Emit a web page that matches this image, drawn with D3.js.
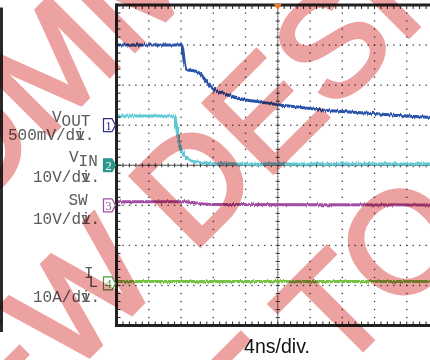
<!DOCTYPE html>
<html><head><meta charset="utf-8">
<script src="https://cdn.jsdelivr.net/npm/d3@7"></script>
<style>html,body{margin:0;padding:0;background:#fff;overflow:hidden}</style>
</head><body>
<svg id="c" width="430" height="360" xmlns="http://www.w3.org/2000/svg"></svg>
<script>
// ---------- data (time in ns, amplitude in divisions from screen centre) ----------
const voutT = [0, 8.1, 8.3, 8.55, 8.8, 9.8, 10.4, 11.0, 11.6, 12.2, 13.5, 15.3, 17.8, 20, 22.7, 25.4, 28.9, 32, 35, 38.8, 40];
const voutV = [3.0, 3.0, 2.75, 2.43, 2.38, 2.35, 2.28, 2.13, 1.98, 1.88, 1.78, 1.66, 1.58, 1.51, 1.45, 1.38, 1.33, 1.29, 1.24, 1.2, 1.19];
const vinT  = [0, 7.2, 7.45, 7.65, 8.0, 8.5, 9.1, 10.4, 12.2, 20, 40];
const vinV  = [1.23, 1.23, 0.96, 0.68, 0.38, 0.22, 0.12, 0.07, 0.04, 0.03, 0.03];
const swT   = [0, 8.5, 10, 12, 40];
const swV   = [-0.91, -0.91, -0.95, -0.98, -0.99];
const ilT   = [0, 40];
const ilV   = [-2.9, -2.9];
const channelIds    = ["1", "2", "3", "4"];
const channelLevels = [1.0, 0.0, -1.0, -2.95];
const channelNames  = [["V", "OUT"], ["V", "IN"], ["SW", ""], ["I", "L"]];
const channelScales = ["500mV/div.", "10V/div.", "10V/div.", "10A/div."];
const timeLabel = "4ns/div.";
const wmTexts = ["RECOMMENDED", "NEW DESIGNS", "SUBJECT TO CHANGE"];

// ---------- layout ----------
const svg = d3.select("#c");
const x = d3.scaleLinear().domain([0, 40]).range([116.5, 439]);
const y = d3.scaleLinear().domain([-4, 4]).range([325.5, 5]);
const colors = ["#2a55a8", "#5ec8d6", "#a24ea2", "#78c244"];
const markColors = ["#30308a", "#2a968c", "#9a4ea0", "#4f9a3a"];
const dotColor = "#3a3a3a";

const defs = svg.append("defs");
const f = defs.append("filter").attr("id", "jit").attr("filterUnits", "userSpaceOnUse")
  .attr("x", 0).attr("y", 0).attr("width", 430).attr("height", 360);
f.append("feTurbulence").attr("type", "fractalNoise").attr("baseFrequency", "1.3 0.04")
  .attr("numOctaves", 1).attr("seed", 4).attr("result", "n");
f.append("feDisplacementMap").attr("in", "SourceGraphic").attr("in2", "n").attr("scale", 4)
  .attr("xChannelSelector", "R").attr("yChannelSelector", "G");

// left neighbour frame fragment
const lf = svg.append("g");
lf.append("line").attr("x1", 1.5).attr("x2", 1.5).attr("y1", 8).attr("y2", 332)
  .attr("stroke", "#2a2a2a").attr("stroke-width", 3);
lf.append("line").attr("x1", 0).attr("x2", 3).attr("y1", 8.5).attr("y2", 8.5).attr("stroke", "#2a2a2a").attr("stroke-width", 2);

// grid dots
const grid = svg.append("g").attr("fill", dotColor);
const xMinor = d3.range(0, 40.001, 0.8);
const yMinor = d3.range(-4, 4.001, 0.2);
for (let d = -3; d <= 3; d++) {
  if (d === 0) continue;
  xMinor.forEach(t => grid.append("rect").attr("x", x(t) - 0.6).attr("y", y(d) - 0.6).attr("width", 1.3).attr("height", 1.3));
}
for (let t = 4; t <= 36; t += 4) {
  if (t === 20) continue;
  yMinor.forEach(v => grid.append("rect").attr("x", x(t) - 0.6).attr("y", y(v) - 0.6).attr("width", 1.3).attr("height", 1.3));
}
// centre lines (finer dots + ticks)
d3.range(0, 40.001, 0.16).forEach(t => grid.append("rect").attr("x", x(t) - 0.5).attr("y", y(0) - 0.5).attr("width", 1.1).attr("height", 1.1));
xMinor.forEach(t => grid.append("rect").attr("x", x(t) - 0.5).attr("y", y(0) - 2).attr("width", 1.1).attr("height", 4));
d3.range(-4, 4.001, 0.04).forEach(v => grid.append("rect").attr("x", x(20) - 0.5).attr("y", y(v) - 0.5).attr("width", 1.1).attr("height", 1.1));
yMinor.forEach(v => grid.append("rect").attr("x", x(20) - 2).attr("y", y(v) - 0.5).attr("width", 4).attr("height", 1.1));

// traces
const series = [[voutT, voutV], [vinT, vinV], [swT, swV], [ilT, ilV]];
const line = d3.line().x(d => x(d[0])).y(d => y(d[1])).curve(d3.curveMonotoneX);
const tr = svg.append("g").attr("filter", "url(#jit)");
series.forEach((s, i) => {
  const pts = s[0].map((t, k) => [t, s[1][k]]);
  tr.append("path").attr("d", line(pts)).attr("fill", "none")
    .attr("stroke", colors[i]).attr("stroke-width", 3);
});

// frame
const fr = svg.append("g").attr("stroke", "#222");
fr.append("line").attr("x1", x(0)).attr("x2", x(0)).attr("y1", y(4) - 1.5).attr("y2", y(-4) + 1.5).attr("stroke-width", 3);
fr.append("line").attr("x1", x(0)).attr("x2", 440).attr("y1", y(4)).attr("y2", y(4)).attr("stroke-width", 3);
fr.append("line").attr("x1", x(0)).attr("x2", 440).attr("y1", y(-4)).attr("y2", y(-4)).attr("stroke-width", 3);
xMinor.forEach(t => {
  fr.append("line").attr("x1", x(t)).attr("x2", x(t)).attr("y1", y(4)).attr("y2", y(4) + 4).attr("stroke-width", 1);
  fr.append("line").attr("x1", x(t)).attr("x2", x(t)).attr("y1", y(-4)).attr("y2", y(-4) - 4).attr("stroke-width", 1);
});
yMinor.forEach(v => fr.append("line").attr("x1", x(0)).attr("x2", x(0) + 4).attr("y1", y(v)).attr("y2", y(v)).attr("stroke-width", 1));

// trigger marker
svg.append("path").attr("d", `M${x(20) - 4},${y(4) - 1}L${x(20) + 4},${y(4) - 1}L${x(20)},${y(4) + 5}Z`).attr("fill", "#f07a28");

// channel markers
channelIds.forEach((id, i) => {
  const cy = y(channelLevels[i]);
  const g = svg.append("g");
  const filled = i === 1;
  g.append("path").attr("d", `M103.5,${cy - 6.5}L112,${cy - 6.5}L115.5,${cy}L112,${cy + 6.5}L103.5,${cy + 6.5}Z`)
    .attr("fill", filled ? markColors[i] : "#fff").attr("stroke", markColors[i]).attr("stroke-width", 1.2);
  g.append("text").attr("x", 108.5).attr("y", cy + 4.5).attr("text-anchor", "middle")
    .attr("font-family", "Liberation Serif, serif").attr("font-size", 13)
    .attr("fill", filled ? "#fff" : markColors[i]).text(id);
});

// channel labels
const lab = svg.append("g").attr("font-family", "'Courier New', 'Liberation Mono', monospace")
  .attr("font-size", 16).attr("fill", "#5a5a5a");
const nameX = [52, 69, 68.5, 84];
const nameY = [122, 162, 205, 278];
const subDx = [0, 0, 0, -5];
const subDy = [4, 4, 0, 9];
const scaleX = [8, 33, 33, 33];
const scaleY = [140, 182, 224, 302];
channelNames.forEach((n, i) => {
  const t = lab.append("text").attr("x", nameX[i]).attr("y", nameY[i]);
  t.append("tspan").text(n[0]);
  if (n[1]) t.append("tspan").attr("dx", subDx[i]).attr("dy", subDy[i]).text(n[1]);
  const s = channelScales[i];
  const t2 = lab.append("text").attr("x", scaleX[i]).attr("y", scaleY[i]);
  t2.append("tspan").text(s.slice(0, s.length - 2));
  t2.append("tspan").attr("dx", -9.6).text(s.slice(s.length - 2, s.length - 1));
  t2.append("tspan").text(s.slice(s.length - 1));
});

// time base label
svg.append("text").attr("x", 277).attr("y", 353).attr("text-anchor", "middle")
  .attr("font-family", "'Liberation Sans', Arial, sans-serif").attr("font-size", 19.5)
  .attr("fill", "#111").text(timeLabel);

// watermark
const pink = "#eda2a2";
const wmAnchor = [3, 4, 8];
const wmU = [79, 263, 452];
const wmV = [-127, 8, 15];
const fs = 143;
const wm = svg.append("g").attr("transform", "rotate(-45)").style("mix-blend-mode", "multiply");
wmTexts.forEach((txt, i) => {
  const t = wm.append("text").attr("font-family", "'Liberation Sans', Arial, sans-serif")
    .attr("font-size", fs).attr("fill", pink).attr("stroke", pink).attr("stroke-width", 4)
    .attr("stroke-linejoin", "miter").attr("x", 0).attr("y", 0).text(txt);
  const ext = t.node().getExtentOfChar(wmAnchor[i]);
  const cx = ext.x + ext.width / 2;
  t.attr("x", wmV[i] - cx).attr("y", wmU[i] + 0.729 * fs / 2);
});
</script>
</body></html>
